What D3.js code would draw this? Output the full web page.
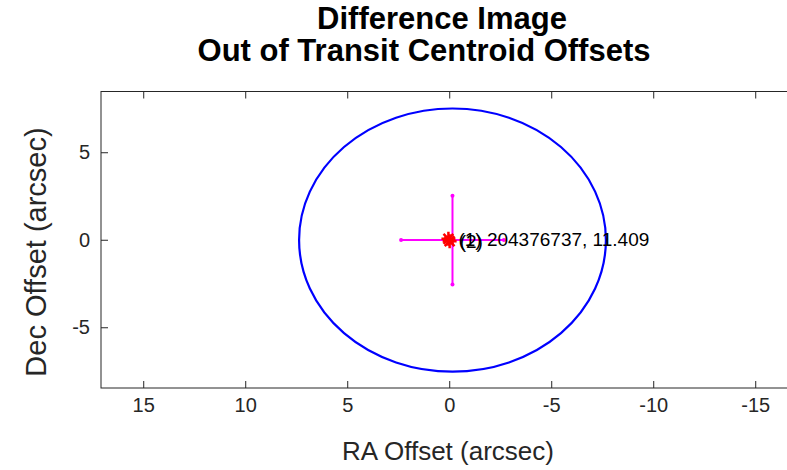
<!DOCTYPE html>
<html>
<head>
<meta charset="utf-8">
<script src="https://cdn.jsdelivr.net/npm/d3@7"></script>
<style>
  body { margin: 0; background: #fff; }
  svg { display: block; font-family: "Liberation Sans", Arial, sans-serif; }
</style>
</head>
<body>
<svg width="787" height="470"></svg>
<script>
let width = 787,
    height = 470;

// chart values
let xTicks = [15, 10, 5, 0, -5, -10, -15];
let yTicks = [-5, 0, 5];
let xLimit = 17.07, yLimit = 8.47;

let centroid = [{ra: -0.16, dec: -0.02, sigRa: 2.52, sigDec: 2.53}];
let circleRadius = [7.52];   // 3 sigma circle

let stars = [
  {label: "(1) 204376737, 11.409", ra: 0.04, dec: 0.05},
  {label: "(2)", ra: -0.02, dec: -0.08}
];

let titleLines = ["Difference Image", "Out of Transit Centroid Offsets"];

let margin = {left: 101, top: 91.5, bottom: 388};

let x = d3.scaleLinear().domain([xLimit, -xLimit]).range([margin.left, margin.left + 2 * xLimit * 20.4]);
let y = d3.scaleLinear().domain([-yLimit, yLimit]).range([margin.bottom, margin.top]);

let svg = d3.select("svg");
let axisColor = "#262626";
let fmt = d => String(d);

// box
svg.append("rect")
    .attr("x", x(xLimit))
    .attr("y", y(yLimit))
    .attr("width", x(-xLimit) - x(xLimit))
    .attr("height", y(-yLimit) - y(yLimit))
    .attr("fill", "none")
    .attr("stroke", axisColor)
    .attr("stroke-width", 1);

let bottomAxis = svg.append("g")
    .attr("transform", "translate(0," + y(-yLimit) + ")")
    .call(d3.axisBottom(x).tickValues(xTicks).tickFormat(fmt).tickSizeInner(-7).tickSizeOuter(0).tickPadding(10));

let topAxis = svg.append("g")
    .attr("transform", "translate(0," + y(yLimit) + ")")
    .call(d3.axisTop(x).tickValues(xTicks).tickSizeInner(-7).tickSizeOuter(0).tickFormat(""));

let leftAxis = svg.append("g")
    .attr("transform", "translate(" + x(xLimit) + ",0)")
    .call(d3.axisLeft(y).tickValues(yTicks).tickFormat(fmt).tickSizeInner(-7).tickSizeOuter(0).tickPadding(11));

[bottomAxis, topAxis, leftAxis].forEach(g => {
  g.select(".domain").remove();
  g.selectAll("line").attr("stroke", axisColor);
  g.selectAll("text")
    .attr("fill", axisColor)
    .style("font-size", "20px")
    .style("font-family", "'Liberation Sans', Arial, sans-serif");
});

// 3 sigma circle
svg.append("g")
  .selectAll("ellipse")
  .data(centroid)
  .enter().append("ellipse")
    .attr("cx", d => x(d.ra))
    .attr("cy", d => y(d.dec))
    .attr("rx", (d, i) => x(d.ra - circleRadius[i]) - x(d.ra))
    .attr("ry", (d, i) => y(d.dec) - y(d.dec + circleRadius[i]))
    .attr("fill", "none")
    .attr("stroke", "#0000ff")
    .attr("stroke-width", 2.2);

// error bars
let bars = svg.append("g").attr("class", "errorbars");
centroid.forEach(d => {
  let segs = [
    [[d.ra + d.sigRa, d.dec], [d.ra - d.sigRa, d.dec]],
    [[d.ra, d.dec + d.sigDec], [d.ra, d.dec - d.sigDec]]
  ];
  bars.selectAll(null)
    .data(segs)
    .enter().append("line")
      .attr("x1", s => x(s[0][0]))
      .attr("y1", s => y(s[0][1]))
      .attr("x2", s => x(s[1][0]))
      .attr("y2", s => y(s[1][1]))
      .attr("stroke", "#ff00ff")
      .attr("stroke-width", 2);
  bars.selectAll(null)
    .data(segs.flat())
    .enter().append("circle")
      .attr("cx", p => x(p[0]))
      .attr("cy", p => y(p[1]))
      .attr("r", 2)
      .attr("fill", "#ff00ff");
});

// star markers (asterisk)
let star = svg.append("g")
  .selectAll("g")
  .data(stars)
  .enter().append("g")
    .attr("transform", d => "translate(" + x(d.ra) + "," + y(d.dec) + ")");

let s = 7;
star.append("path")
    .attr("d", "M" + -s + ",0H" + s + "M0," + -s + "V" + s +
               "M" + -s * 0.7 + "," + -s * 0.7 + "L" + s * 0.7 + "," + s * 0.7 +
               "M" + -s * 0.7 + "," + s * 0.7 + "L" + s * 0.7 + "," + -s * 0.7)
    .attr("stroke", "#ff0000")
    .attr("stroke-width", 2.5)
    .attr("fill", "none");

star.append("text")
    .text(d => d.label)
    .attr("x", 10)
    .attr("y", 7)
    .style("font-size", "19px")
    .attr("fill", "#000");

// titles
svg.append("g")
  .selectAll("text")
  .data(titleLines)
  .enter().append("text")
    .attr("x", (d, i) => i === 0 ? 442 : 424)
    .attr("y", (d, i) => 29 + i * 32)
    .attr("text-anchor", "middle")
    .style("font-size", "31px")
    .style("font-weight", "bold")
    .text(d => d);

svg.append("text")
    .attr("x", 448)
    .attr("y", 460)
    .attr("text-anchor", "middle")
    .style("font-size", "26px")
    .attr("fill", axisColor)
    .text("RA Offset (arcsec)");

svg.append("text")
    .attr("transform", "translate(46,252) rotate(-90)")
    .attr("text-anchor", "middle")
    .style("font-size", "29px")
    .attr("fill", axisColor)
    .text("Dec Offset (arcsec)");
</script>
</body>
</html>
